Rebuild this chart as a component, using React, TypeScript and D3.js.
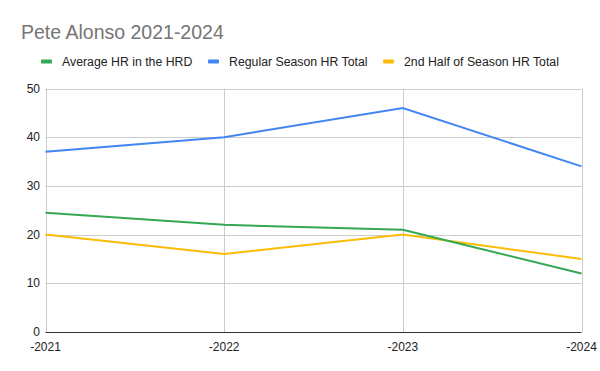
import React, { useEffect, useRef } from "react";
import * as d3 from "d3";

const years = ["-2021", "-2022", "-2023", "-2024"];
const avgHrd = [24.5, 22, 21, 12];
const regularSeason = [37, 40, 46, 34];
const secondHalf = [20, 16, 20, 15];
const yTicks = [0, 10, 20, 30, 40, 50];

const seriesList = [
  { name: "Average HR in the HRD", values: avgHrd, color: "#34a853" },
  { name: "Regular Season HR Total", values: regularSeason, color: "#4285f4" },
  { name: "2nd Half of Season HR Total", values: secondHalf, color: "#fbbc04" },
];

const FONT = "'Liberation Sans', Arial, sans-serif";

export default function App() {
  const ref = useRef<SVGSVGElement>(null);

  useEffect(() => {
    const svg = d3.select(ref.current);
    svg.selectAll("*").remove();

    const left = 45.5, right = 581.5, top = 88.5, bottom = 332;

    const x = d3.scalePoint().domain(years).range([left, right]);
    const y = d3.scaleLinear().domain([0, 50]).range([bottom, top]);

    svg.append("rect").attr("width", 600).attr("height", 371).attr("fill", "#fff");

    svg.append("text")
      .attr("x", 21).attr("y", 39)
      .attr("font-family", FONT)
      .attr("font-size", 19.5)
      .attr("fill", "#757575")
      .text("Pete Alonso 2021-2024");

    // legend
    const legendX = [41, 208, 383];
    seriesList.forEach((s, i) => {
      const g = svg.append("g").attr("transform", `translate(${legendX[i]},61.5)`);
      g.append("rect").attr("x", 0).attr("y", -2).attr("width", 11).attr("height", 4).attr("rx", 1).attr("fill", s.color);
      g.append("text")
        .attr("x", 21).attr("y", 4)
        .attr("font-family", FONT)
        .attr("font-size", 12.3)
        .attr("fill", "#222")
        .text(s.name);
    });

    // grid
    const grid = svg.append("g");
    grid.selectAll("line.h")
      .data(yTicks.filter((t) => t > 0))
      .join("line")
      .attr("x1", left).attr("x2", right)
      .attr("y1", (d) => Math.round(y(d)) + 0.5)
      .attr("y2", (d) => Math.round(y(d)) + 0.5)
      .attr("stroke", "#cccccc");
    grid.selectAll("line.v")
      .data(years)
      .join("line")
      .attr("x1", (d) => Math.round(x(d)!) + 0.5)
      .attr("x2", (d) => Math.round(x(d)!) + 0.5)
      .attr("y1", top).attr("y2", bottom)
      .attr("stroke", "#cccccc");

    // y axis labels
    svg.append("g").selectAll("text")
      .data(yTicks)
      .join("text")
      .attr("x", 40)
      .attr("y", (d) => y(d) + 4)
      .attr("text-anchor", "end")
      .attr("font-family", FONT)
      .attr("font-size", 12)
      .attr("fill", "#222")
      .text((d) => d);

    // x axis labels
    svg.append("g").selectAll("text")
      .data(years)
      .join("text")
      .attr("x", (d) => x(d)!)
      .attr("y", 351)
      .attr("text-anchor", "middle")
      .attr("font-family", FONT)
      .attr("font-size", 12)
      .attr("fill", "#222")
      .text((d) => d);

    const line = d3.line<number>()
      .x((d, i) => x(years[i])!)
      .y((d) => y(d));

    [seriesList[2], seriesList[1], seriesList[0]].forEach((s) => {
      svg.append("path")
        .datum(s.values)
        .attr("fill", "none")
        .attr("stroke", s.color)
        .attr("stroke-width", 2)
        .attr("d", line);
    });

    svg.append("line")
      .attr("x1", left).attr("x2", right)
      .attr("y1", bottom + 0.5).attr("y2", bottom + 0.5)
      .attr("stroke", "#333333");
  }, []);

  return <svg ref={ref} width={600} height={371} style={{ display: "block", position: "absolute", left: 0, top: 0 }} />;
}
